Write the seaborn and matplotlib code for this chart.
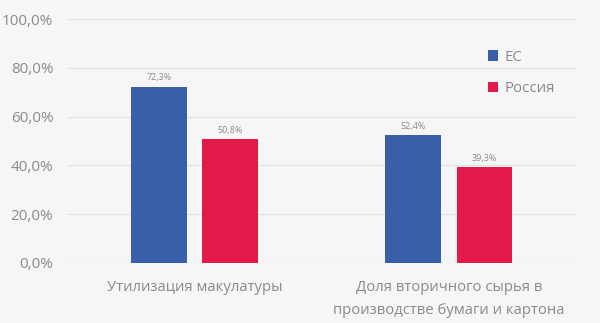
import matplotlib
matplotlib.use("Agg")
import matplotlib.pyplot as plt
import seaborn as sns
import pandas as pd
from matplotlib.ticker import FuncFormatter
from matplotlib.patches import Patch

categories = ["Утилизация макулатуры", "Доля вторичного сырья в\nпроизводстве бумаги и картона"]
series = ["ЕС", "Россия"]
eu_values = [0.723, 0.524]
ru_values = [0.508, 0.393]
colors = ["#3A5FA9", "#E3194A"]

df = pd.DataFrame({
    "category": categories * 2,
    "region": [series[0]] * 2 + [series[1]] * 2,
    "value": eu_values + ru_values,
})

sns.set_theme(style="white")
plt.rcParams["font.family"] = ["Open Sans", "DejaVu Sans"]

bg = "#F6F6F6"
text_color = "#8A8A8A"
fig = plt.figure(figsize=(6.0, 3.23), dpi=100, facecolor=bg)
ax = fig.add_axes([0.112, 0.186, 0.848, 0.755], facecolor=bg)

sns.barplot(data=df, x="category", y="value", hue="region", palette=colors,
            saturation=1, width=0.56, gap=0.22, linewidth=0, ax=ax, legend=False)

ax.set_ylim(0, 1.0)
ax.set_xlim(-0.5, 1.5)
ax.set_yticks([0, 0.2, 0.4, 0.6, 0.8, 1.0])
ax.yaxis.set_major_formatter(FuncFormatter(lambda v, _: f"{v*100:.1f}%".replace(".", ",")))
ax.grid(axis="y", color="#E4E4E4", linewidth=0.9)
ax.set_axisbelow(True)
for s in ax.spines.values():
    s.set_visible(False)
ax.set_xlabel("")
ax.set_ylabel("")
ax.tick_params(axis="y", labelsize=11, colors=text_color, length=0, pad=10)
ax.tick_params(axis="x", labelsize=10.7, colors=text_color, length=0, pad=12)
for lbl in ax.get_xticklabels():
    lbl.set_linespacing(1.75)

for cont in ax.containers:
    labels = [f"{b.get_height()*100:.1f}%".replace(".", ",") for b in cont]
    ax.bar_label(cont, labels=labels, padding=3, fontsize=6.5, color=text_color)

handles = [Patch(facecolor=c, edgecolor="none") for c in colors]
leg = ax.legend(handles, series, loc="upper left", bbox_to_anchor=(0.80, 0.93),
                frameon=False, fontsize=10.8, handlelength=0.7, handleheight=0.7,
                handletextpad=0.4, labelspacing=1.1, labelcolor=text_color)

fig.savefig("out.png", dpi=100, facecolor=bg)
